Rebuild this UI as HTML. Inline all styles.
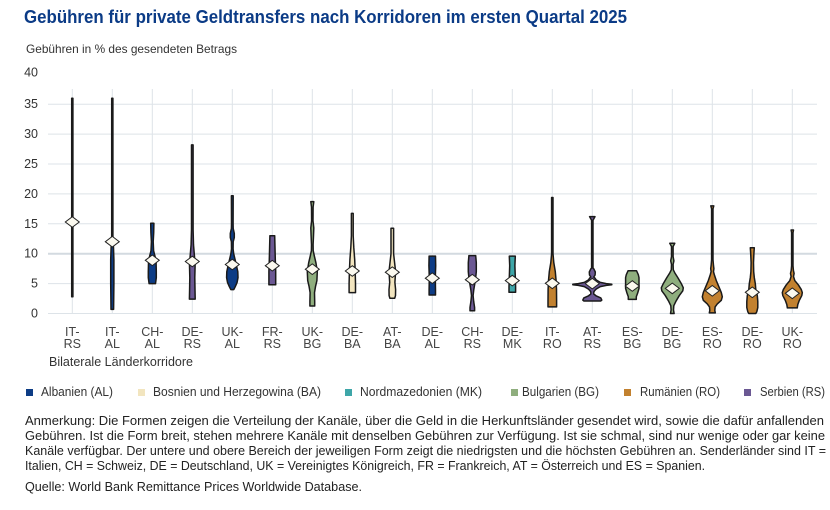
<!DOCTYPE html>
<html><head><meta charset="utf-8"><style>
html,body{margin:0;padding:0;background:#fff;}
svg{display:block;font-family:"Liberation Sans",sans-serif;}
</style></head><body>
<svg width="830" height="510" viewBox="0 0 830 510" xmlns="http://www.w3.org/2000/svg">
<defs><path id="dm" d="M0,-5.3 L7,0 L0,5.3 L-7,0Z" fill="#fbf9ef" stroke="#222" stroke-width="1"/></defs>
<rect width="830" height="510" fill="#fff"/>
<text x="24" y="23" font-size="18" font-weight="bold" fill="#0b3b86" textLength="603" lengthAdjust="spacingAndGlyphs">Gebühren für private Geldtransfers nach Korridoren im ersten Quartal 2025</text>
<text x="26" y="53" font-size="12" fill="#333" textLength="211" lengthAdjust="spacingAndGlyphs">Gebühren in % des gesendeten Betrags</text>
<g stroke="#dde3e8" stroke-width="1">
<line x1="48" y1="313.5" x2="817" y2="313.5"/>
<line x1="48" y1="283.6" x2="817" y2="283.6"/>
<line x1="48" y1="223.8" x2="817" y2="223.8"/>
<line x1="48" y1="193.9" x2="817" y2="193.9"/>
<line x1="48" y1="164.0" x2="817" y2="164.0"/>
<line x1="48" y1="134.1" x2="817" y2="134.1"/>
<line x1="48" y1="104.2" x2="817" y2="104.2"/>
</g>
<line x1="48" y1="253.7" x2="817" y2="253.7" stroke="#d3dae0" stroke-width="2"/>
<g stroke="#dde3e8" stroke-width="1">
<line x1="72.3" y1="89" x2="72.3" y2="313.5"/><line x1="112.3" y1="89" x2="112.3" y2="313.5"/><line x1="152.3" y1="89" x2="152.3" y2="313.5"/><line x1="192.3" y1="89" x2="192.3" y2="313.5"/><line x1="232.3" y1="89" x2="232.3" y2="313.5"/><line x1="272.3" y1="89" x2="272.3" y2="313.5"/><line x1="312.3" y1="89" x2="312.3" y2="313.5"/><line x1="352.3" y1="89" x2="352.3" y2="313.5"/><line x1="392.3" y1="89" x2="392.3" y2="313.5"/><line x1="432.3" y1="89" x2="432.3" y2="313.5"/><line x1="472.3" y1="89" x2="472.3" y2="313.5"/><line x1="512.3" y1="89" x2="512.3" y2="313.5"/><line x1="552.3" y1="89" x2="552.3" y2="313.5"/><line x1="592.3" y1="89" x2="592.3" y2="313.5"/><line x1="632.3" y1="89" x2="632.3" y2="313.5"/><line x1="672.3" y1="89" x2="672.3" y2="313.5"/><line x1="712.3" y1="89" x2="712.3" y2="313.5"/><line x1="752.3" y1="89" x2="752.3" y2="313.5"/><line x1="792.3" y1="89" x2="792.3" y2="313.5"/>
</g>
<g font-size="12.5" fill="#333" text-anchor="end">
<text x="38" y="76.5">40</text><text x="38" y="108.2">35</text><text x="38" y="138.1">30</text><text x="38" y="168">25</text><text x="38" y="197.9">20</text><text x="38" y="227.8">15</text><text x="38" y="257.7">10</text><text x="38" y="287.6">5</text><text x="38" y="317.5">0</text>
</g>
<g stroke="#1a1a1a" stroke-width="1.5" stroke-linejoin="round">
<path transform="translate(72.3,313.5) scale(1,-5.98)" vector-effect="non-scaling-stroke" fill="#6b5893" d="M0.6,36 L0.6,2.8 L-0.6,2.8 L-0.6,36Z"/>
<path transform="translate(112.3,313.5) scale(1,-5.98)" vector-effect="non-scaling-stroke" fill="#0d3c85" d="M0.6,36 L0.6,13 L1.2,11 L1.6,9 L1.6,5 L1.3,0.7 L-1.3,0.7 L-1.6,5 L-1.6,9 L-1.2,11 L-0.6,13 L-0.6,36Z"/>
<path transform="translate(152.3,313.5) scale(1,-5.98)" vector-effect="non-scaling-stroke" fill="#0d3c85" d="M1.6,15.1 L1.4,13.5 L0.9,12 L1.3,10.5 L2.8,9.5 L3.8,8.5 L4,7 L4,6 L3.6,5.5 L3.2,5 L-3.2,5 L-3.6,5.5 L-4,6 L-4,7 L-3.8,8.5 L-2.8,9.5 L-1.3,10.5 L-0.9,12 L-1.4,13.5 L-1.6,15.1Z"/>
<path transform="translate(192.3,313.5) scale(1,-5.98)" vector-effect="non-scaling-stroke" fill="#6b5893" d="M0.8,28.2 L0.8,14 L1.2,11.5 L2.2,9.5 L2.8,8 L2.5,6 L2.7,4 L2.9,2.4 L-2.9,2.4 L-2.7,4 L-2.5,6 L-2.8,8 L-2.2,9.5 L-1.2,11.5 L-0.8,14 L-0.8,28.2Z"/>
<path transform="translate(232.3,313.5) scale(1,-5.98)" vector-effect="non-scaling-stroke" fill="#0d3c85" d="M0.9,19.7 L0.8,15 L0.9,14.2 L2,13.4 L2,12.7 L0.9,12 L0.8,10.8 L1.4,10 L2.8,9 L4.2,8 L5.5,7 L5.7,6 L4.8,5.2 L3,4.5 L1.5,4 L-1.5,4 L-3,4.5 L-4.8,5.2 L-5.7,6 L-5.5,7 L-4.2,8 L-2.8,9 L-1.4,10 L-0.8,10.8 L-0.9,12 L-2,12.7 L-2,13.4 L-0.9,14.2 L-0.8,15 L-0.9,19.7Z"/>
<path transform="translate(272.3,313.5) scale(1,-5.98)" vector-effect="non-scaling-stroke" fill="#6b5893" d="M2.4,13 L2.7,11 L3,9 L3.4,7 L3.4,5.5 L3.4,4.8 L-3.4,4.8 L-3.4,5.5 L-3.4,7 L-3,9 L-2.7,11 L-2.4,13Z"/>
<path transform="translate(312.3,313.5) scale(1,-5.98)" vector-effect="non-scaling-stroke" fill="#8fae7e" d="M1.5,18.7 L0.8,17.8 L0.7,15.5 L1.5,14.3 L1.2,13 L0.8,11.5 L0.9,10.5 L2.2,9.5 L3.6,8.5 L5,7 L4.6,5.5 L3.2,4.5 L2.2,3.5 L2.4,2 L2.4,1.25 L-2.4,1.25 L-2.4,2 L-2.2,3.5 L-3.2,4.5 L-4.6,5.5 L-5,7 L-3.6,8.5 L-2.2,9.5 L-0.9,10.5 L-0.8,11.5 L-1.2,13 L-1.5,14.3 L-0.7,15.5 L-0.8,17.8 L-1.5,18.7Z"/>
<path transform="translate(352.3,313.5) scale(1,-5.98)" vector-effect="non-scaling-stroke" fill="#f2e5bf" d="M0.9,16.75 L0.9,13 L1.5,11 L2.4,9 L2.9,7 L3.2,5 L3.2,3.5 L-3.2,3.5 L-3.2,5 L-2.9,7 L-2.4,9 L-1.5,11 L-0.9,13 L-0.9,16.75Z"/>
<path transform="translate(392.3,313.5) scale(1,-5.98)" vector-effect="non-scaling-stroke" fill="#f2e5bf" d="M1.3,14.25 L1.3,10 L2.3,8.5 L3.3,7 L2.6,5.2 L3.3,4 L3.2,3 L2.4,2.55 L-2.4,2.55 L-3.2,3 L-3.3,4 L-2.6,5.2 L-3.3,7 L-2.3,8.5 L-1.3,10 L-1.3,14.25Z"/>
<path transform="translate(432.3,313.5) scale(1,-5.98)" vector-effect="non-scaling-stroke" fill="#0d3c85" d="M3.2,9.6 L3.4,8 L3,6 L3.2,4 L3.2,3.1 L-3.2,3.1 L-3.2,4 L-3,6 L-3.4,8 L-3.2,9.6Z"/>
<path transform="translate(472.3,313.5) scale(1,-5.98)" vector-effect="non-scaling-stroke" fill="#6b5893" d="M3.4,9.67 L4,8.5 L4,7 L3.4,6 L2.5,5 L1.5,4 L0.8,3 L1.4,2 L2.3,1 L2.3,0.47 L-2.3,0.47 L-2.3,1 L-1.4,2 L-0.8,3 L-1.5,4 L-2.5,5 L-3.4,6 L-4,7 L-4,8.5 L-3.4,9.67Z"/>
<path transform="translate(512.3,313.5) scale(1,-5.98)" vector-effect="non-scaling-stroke" fill="#3ea6a8" d="M3,9.6 L2.6,8 L3,6 L3.3,4.5 L3.3,3.55 L-3.3,3.55 L-3.3,4.5 L-3,6 L-2.6,8 L-3,9.6Z"/>
<path transform="translate(552.3,313.5) scale(1,-5.98)" vector-effect="non-scaling-stroke" fill="#c2812f" d="M0.7,19.4 L0.7,10 L1.5,8.5 L3,7 L3.8,5.5 L4.2,4 L4.3,2 L4.3,1.1 L-4.3,1.1 L-4.3,2 L-4.2,4 L-3.8,5.5 L-3,7 L-1.5,8.5 L-0.7,10 L-0.7,19.4Z"/>
<path transform="translate(592.3,313.5) scale(1,-5.98)" vector-effect="non-scaling-stroke" fill="#6b5893" d="M2.7,16.19 L0.7,15.6 L0.7,7.6 L1.6,7.44 L3,6.94 L2.8,6.44 L1.5,6.1 L2.5,5.94 L4,5.6 L8,5.2 L14,5 L19.5,4.9 L19.5,4.8 L14,4.7 L8,4.5 L4,4.1 L2.5,3.85 L1.5,3.6 L1.5,3.26 L4,2.93 L8.5,2.6 L9.5,2.25 L8.5,2.09 L-8.5,2.09 L-9.5,2.25 L-8.5,2.6 L-4,2.93 L-1.5,3.26 L-1.5,3.6 L-2.5,3.85 L-4,4.1 L-8,4.5 L-14,4.7 L-19.5,4.8 L-19.5,4.9 L-14,5 L-8,5.2 L-4,5.6 L-2.5,5.94 L-1.5,6.1 L-2.8,6.44 L-3,6.94 L-1.6,7.44 L-0.7,7.6 L-0.7,15.6 L-2.7,16.19Z"/>
<path transform="translate(632.3,313.5) scale(1,-5.98)" vector-effect="non-scaling-stroke" fill="#8fae7e" d="M4.2,7.15 L6,6.5 L6.7,6 L6.7,4.2 L5.5,3.5 L4,2.8 L4,2.37 L-4,2.37 L-4,2.8 L-5.5,3.5 L-6.7,4.2 L-6.7,6 L-6,6.5 L-4.2,7.15Z"/>
<path transform="translate(672.3,313.5) scale(1,-5.98)" vector-effect="non-scaling-stroke" fill="#8fae7e" d="M2.5,11.74 L0.8,11.2 L0.8,9.5 L1.6,8.8 L0.8,8.2 L1,7.3 L2.5,6.8 L5.5,6 L9,5 L11,4.3 L10.5,3.8 L7,3 L3.5,2 L1.5,1.3 L1.2,0.6 L1.8,0 L-1.8,0 L-1.2,0.6 L-1.5,1.3 L-3.5,2 L-7,3 L-10.5,3.8 L-11,4.3 L-9,5 L-5.5,6 L-2.5,6.8 L-1,7.3 L-0.8,8.2 L-1.6,8.8 L-0.8,9.5 L-0.8,11.2 L-2.5,11.74Z"/>
<path transform="translate(712.3,313.5) scale(1,-5.98)" vector-effect="non-scaling-stroke" fill="#c2812f" d="M1.5,18 L0.7,17.5 L0.7,9 L1.2,8 L1.6,7.5 L1.2,7 L2,6.5 L4,5.5 L6.5,4.5 L9,3.5 L10,2.8 L9,2.2 L5,1.6 L2.8,1.1 L2.5,0.5 L3,0.1 L-3,0.1 L-2.5,0.5 L-2.8,1.1 L-5,1.6 L-9,2.2 L-10,2.8 L-9,3.5 L-6.5,4.5 L-4,5.5 L-2,6.5 L-1.2,7 L-1.6,7.5 L-1.2,8 L-0.7,9 L-0.7,17.5 L-1.5,18Z"/>
<path transform="translate(752.3,313.5) scale(1,-5.98)" vector-effect="non-scaling-stroke" fill="#c2812f" d="M2,11 L1.6,10 L1.2,8.5 L1.4,7 L2,6 L3,5 L3.5,4 L5,3 L5.5,2 L5.5,1 L4.5,0.3 L3.5,0 L-3.5,0 L-4.5,0.3 L-5.5,1 L-5.5,2 L-5,3 L-3.5,4 L-3,5 L-2,6 L-1.4,7 L-1.2,8.5 L-1.6,10 L-2,11Z"/>
<path transform="translate(792.3,313.5) scale(1,-5.98)" vector-effect="non-scaling-stroke" fill="#c2812f" d="M1.2,13.96 L0.7,13.5 L0.7,8 L1.1,7.2 L1.8,6.7 L1.2,6.2 L2.5,5.5 L6,4.8 L9,4 L10,3.5 L9.5,3 L7,2.2 L5.5,1.5 L5,1 L5,0.95 L-5,0.95 L-5,1 L-5.5,1.5 L-7,2.2 L-9.5,3 L-10,3.5 L-9,4 L-6,4.8 L-2.5,5.5 L-1.2,6.2 L-1.8,6.7 L-1.1,7.2 L-0.7,8 L-0.7,13.5 L-1.2,13.96Z"/>
</g>
<use href="#dm" transform="translate(72.3,222)"/>
<use href="#dm" transform="translate(112.3,241.7)"/>
<use href="#dm" transform="translate(152.3,260.3)"/>
<use href="#dm" transform="translate(192.3,261.5)"/>
<use href="#dm" transform="translate(232.3,264.5)"/>
<use href="#dm" transform="translate(272.3,265.7)"/>
<use href="#dm" transform="translate(312.3,269.2)"/>
<use href="#dm" transform="translate(352.3,271)"/>
<use href="#dm" transform="translate(392.3,272.2)"/>
<use href="#dm" transform="translate(432.3,278.2)"/>
<use href="#dm" transform="translate(472.3,279.7)"/>
<use href="#dm" transform="translate(512.3,280.6)"/>
<use href="#dm" transform="translate(552.3,283.3)"/>
<use href="#dm" transform="translate(592.3,283.6)"/>
<use href="#dm" transform="translate(632.3,286)"/>
<use href="#dm" transform="translate(672.3,288.4)"/>
<use href="#dm" transform="translate(712.3,290.8)"/>
<use href="#dm" transform="translate(752.3,292.3)"/>
<use href="#dm" transform="translate(792.3,293.3)"/>
<g font-size="12.5" fill="#444" text-anchor="middle">
<text x="72.3" y="336">IT-</text><text x="72.3" y="348">RS</text>
<text x="112.3" y="336">IT-</text><text x="112.3" y="348">AL</text>
<text x="152.3" y="336">CH-</text><text x="152.3" y="348">AL</text>
<text x="192.3" y="336">DE-</text><text x="192.3" y="348">RS</text>
<text x="232.3" y="336">UK-</text><text x="232.3" y="348">AL</text>
<text x="272.3" y="336">FR-</text><text x="272.3" y="348">RS</text>
<text x="312.3" y="336">UK-</text><text x="312.3" y="348">BG</text>
<text x="352.3" y="336">DE-</text><text x="352.3" y="348">BA</text>
<text x="392.3" y="336">AT-</text><text x="392.3" y="348">BA</text>
<text x="432.3" y="336">DE-</text><text x="432.3" y="348">AL</text>
<text x="472.3" y="336">CH-</text><text x="472.3" y="348">RS</text>
<text x="512.3" y="336">DE-</text><text x="512.3" y="348">MK</text>
<text x="552.3" y="336">IT-</text><text x="552.3" y="348">RO</text>
<text x="592.3" y="336">AT-</text><text x="592.3" y="348">RS</text>
<text x="632.3" y="336">ES-</text><text x="632.3" y="348">BG</text>
<text x="672.3" y="336">DE-</text><text x="672.3" y="348">BG</text>
<text x="712.3" y="336">ES-</text><text x="712.3" y="348">RO</text>
<text x="752.3" y="336">DE-</text><text x="752.3" y="348">RO</text>
<text x="792.3" y="336">UK-</text><text x="792.3" y="348">RO</text>
</g>
<text x="49" y="366" font-size="12.5" fill="#333" textLength="144" lengthAdjust="spacingAndGlyphs">Bilaterale Länderkorridore</text>
<rect x="26" y="389" width="7" height="7" fill="#0d3c85"/>
<rect x="138" y="389" width="7" height="7" fill="#f2e5bf"/>
<rect x="345" y="389" width="7" height="7" fill="#3ea6a8"/>
<rect x="511" y="389" width="7" height="7" fill="#8fae7e"/>
<rect x="624" y="389" width="7" height="7" fill="#c2812f"/>
<rect x="744" y="389" width="7" height="7" fill="#6b5893"/>
<g font-size="12.5" fill="#333">
<text x="41" y="396" textLength="72" lengthAdjust="spacingAndGlyphs">Albanien (AL)</text>
<text x="153" y="396" textLength="168" lengthAdjust="spacingAndGlyphs">Bosnien und Herzegowina (BA)</text>
<text x="360" y="396" textLength="122" lengthAdjust="spacingAndGlyphs">Nordmazedonien (MK)</text>
<text x="522" y="396" textLength="77" lengthAdjust="spacingAndGlyphs">Bulgarien (BG)</text>
<text x="640" y="396" textLength="80" lengthAdjust="spacingAndGlyphs">Rumänien (RO)</text>
<text x="760" y="396" textLength="65" lengthAdjust="spacingAndGlyphs">Serbien (RS)</text>
</g>
<g font-size="12.5" fill="#222">
<text x="25" y="425" textLength="799" lengthAdjust="spacingAndGlyphs">Anmerkung: Die Formen zeigen die Verteilung der Kanäle, über die Geld in die Herkunftsländer gesendet wird, sowie die dafür anfallenden</text>
<text x="25" y="440" textLength="800" lengthAdjust="spacingAndGlyphs">Gebühren. Ist die Form breit, stehen mehrere Kanäle mit denselben Gebühren zur Verfügung. Ist sie schmal, sind nur wenige oder gar keine</text>
<text x="25" y="455" textLength="801" lengthAdjust="spacingAndGlyphs">Kanäle verfügbar. Der untere und obere Bereich der jeweiligen Form zeigt die niedrigsten und die höchsten Gebühren an. Senderländer sind IT =</text>
<text x="25" y="470" textLength="680" lengthAdjust="spacingAndGlyphs">Italien, CH = Schweiz, DE = Deutschland, UK = Vereinigtes Königreich, FR = Frankreich, AT = Österreich und ES = Spanien.</text>
<text x="25" y="491" textLength="337" lengthAdjust="spacingAndGlyphs">Quelle: World Bank Remittance Prices Worldwide Database.</text>
</g>
</svg>
</body></html>
